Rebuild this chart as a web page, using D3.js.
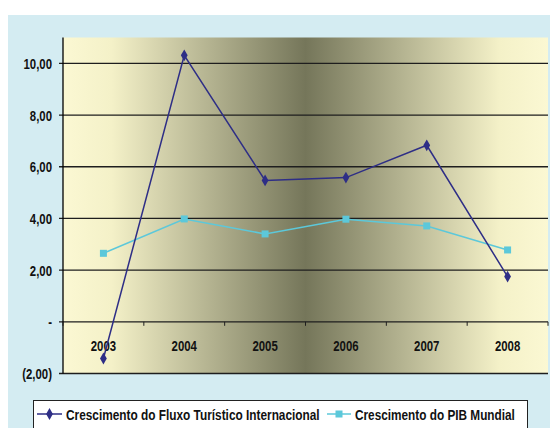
<!DOCTYPE html>
<html><head><meta charset="utf-8">
<script src="https://cdn.jsdelivr.net/npm/d3@7"></script>
<style>body{margin:0;background:#fff;}svg{display:block;}</style>
</head><body>
<script>
const years = ["2003","2004","2005","2006","2007","2008"];
const fluxo = [-1.42, 10.31, 5.47, 5.58, 6.83, 1.75];
const pib = [2.65, 3.98, 3.40, 3.97, 3.71, 2.78];
const yTicks = [-2, 0, 2, 4, 6, 8, 10];
const seriesNames = ["Crescimento do Fluxo Turístico Internacional", "Crescimento do PIB Mundial"];
const seriesColors = ["#2E2E86", "#5CC8DA"];

const W = 550, H = 428;
const font = "'Liberation Sans',Arial,sans-serif";
const svg = d3.select("body").append("svg").attr("width", W).attr("height", H);

// condensed text (Arial Narrow look) via horizontal scale
function ntext(parent, tx, ty, str, anchor, k) {
  return parent.append("text")
    .attr("transform", `translate(${tx},${ty}) scale(${k},1)`)
    .attr("text-anchor", anchor).attr("font-family", font).attr("font-weight", "bold")
    .attr("font-size", 15).attr("fill", "#111").text(str);
}

svg.append("rect").attr("x", 8).attr("y", 15).attr("width", W - 8).attr("height", H - 15).attr("fill", "#D4ECF2");

const L = 63, R = 548, T = 37.5, B = 373.5;
const x = d3.scaleBand().domain(years).range([L, R]);
const y = d3.scaleLinear().domain([-2, 11]).range([B, T]);

const grad = svg.append("defs").append("linearGradient").attr("id", "bg").attr("x1", "0").attr("x2", "1").attr("y1", "0").attr("y2", "0");
grad.append("stop").attr("offset", "0").attr("stop-color", "#FBF8D3");
grad.append("stop").attr("offset", "0.1").attr("stop-color", "#F4F1C8");
grad.append("stop").attr("offset", "0.5").attr("stop-color", "#75765A");
grad.append("stop").attr("offset", "0.9").attr("stop-color", "#F4F1C8");
grad.append("stop").attr("offset", "1").attr("stop-color", "#FBF8D3");
svg.append("rect").attr("x", L).attr("y", T).attr("width", R - L).attr("height", B - T).attr("fill", "url(#bg)");

// gridlines
svg.append("g").selectAll("line").data(yTicks).join("line")
  .attr("x1", L - 4).attr("x2", R).attr("y1", d => y(d)).attr("y2", d => y(d))
  .attr("stroke", "#1e1e1e").attr("stroke-width", 1.3);

// y axis line
svg.append("line").attr("x1", L).attr("x2", L).attr("y1", T).attr("y2", B).attr("stroke", "#000").attr("stroke-width", 1.3);

// y labels
const fmt = d => d === 0 ? "-" : (d < 0 ? "(" + d3.format(".2f")(-d).replace(".", ",") + ")" : d3.format(".2f")(d).replace(".", ","));
const gy = svg.append("g");
yTicks.forEach(d => ntext(gy, 52, y(d) + 5.5, fmt(d), "end", 0.76));

// x axis ticks at zero
const bounds = years.map(d => x(d) + x.bandwidth()).concat([L]);
svg.append("g").selectAll("line").data(bounds).join("line")
  .attr("x1", d => d).attr("x2", d => d).attr("y1", y(0)).attr("y2", y(0) + 4)
  .attr("stroke", "#1e1e1e").attr("stroke-width", 1);

const gx = svg.append("g");
years.forEach(d => ntext(gx, x(d) + x.bandwidth() / 2, y(0) + 29, d, "middle", 0.76));

const cx = d => x(d) + x.bandwidth() / 2;
const line = d3.line().x((d, i) => cx(years[i])).y(d => y(d));

// PIB
svg.append("path").datum(pib).attr("d", line).attr("fill", "none").attr("stroke", seriesColors[1]).attr("stroke-width", 1.5);
svg.append("g").selectAll("rect").data(pib).join("rect")
  .attr("x", (d, i) => cx(years[i]) - 3.5).attr("y", d => y(d) - 3.5).attr("width", 7).attr("height", 7)
  .attr("fill", seriesColors[1]);

// Fluxo
svg.append("path").datum(fluxo).attr("d", line).attr("fill", "none").attr("stroke", seriesColors[0]).attr("stroke-width", 1.5);
const diamond = d3.symbol().type(d3.symbolDiamond).size(40);
svg.append("g").selectAll("path").data(fluxo).join("path")
  .attr("transform", (d, i) => `translate(${cx(years[i])},${y(d)})`).attr("d", diamond)
  .attr("fill", seriesColors[0]);

// legend
svg.append("rect").attr("x", 33.5).attr("y", 400.5).attr("width", 494).attr("height", 40)
  .attr("fill", "#fff").attr("stroke", "#222").attr("stroke-width", 1);
const lg = [{x1: 37, x2: 62, tx: 66, w: 254}, {x1: 327, x2: 351, tx: 355, w: 160}];
const gl = svg.append("g");
lg.forEach((p, i) => {
  gl.append("line").attr("x1", p.x1).attr("x2", p.x2).attr("y1", 414).attr("y2", 414).attr("stroke", seriesColors[i]).attr("stroke-width", 1.5);
  if (i === 0) gl.append("path").attr("transform", `translate(${(p.x1 + p.x2) / 2},414)`).attr("d", diamond).attr("fill", seriesColors[0]);
  else gl.append("rect").attr("x", (p.x1 + p.x2) / 2 - 3.5).attr("y", 410.5).attr("width", 7).attr("height", 7).attr("fill", seriesColors[1]);
  const t = ntext(gl, p.tx, 419.5, seriesNames[i], "start", 1);
  const n = t.node().getComputedTextLength();
  t.attr("transform", `translate(${p.tx},419.5) scale(${p.w / n},1)`);
});
</script>
</body></html>
